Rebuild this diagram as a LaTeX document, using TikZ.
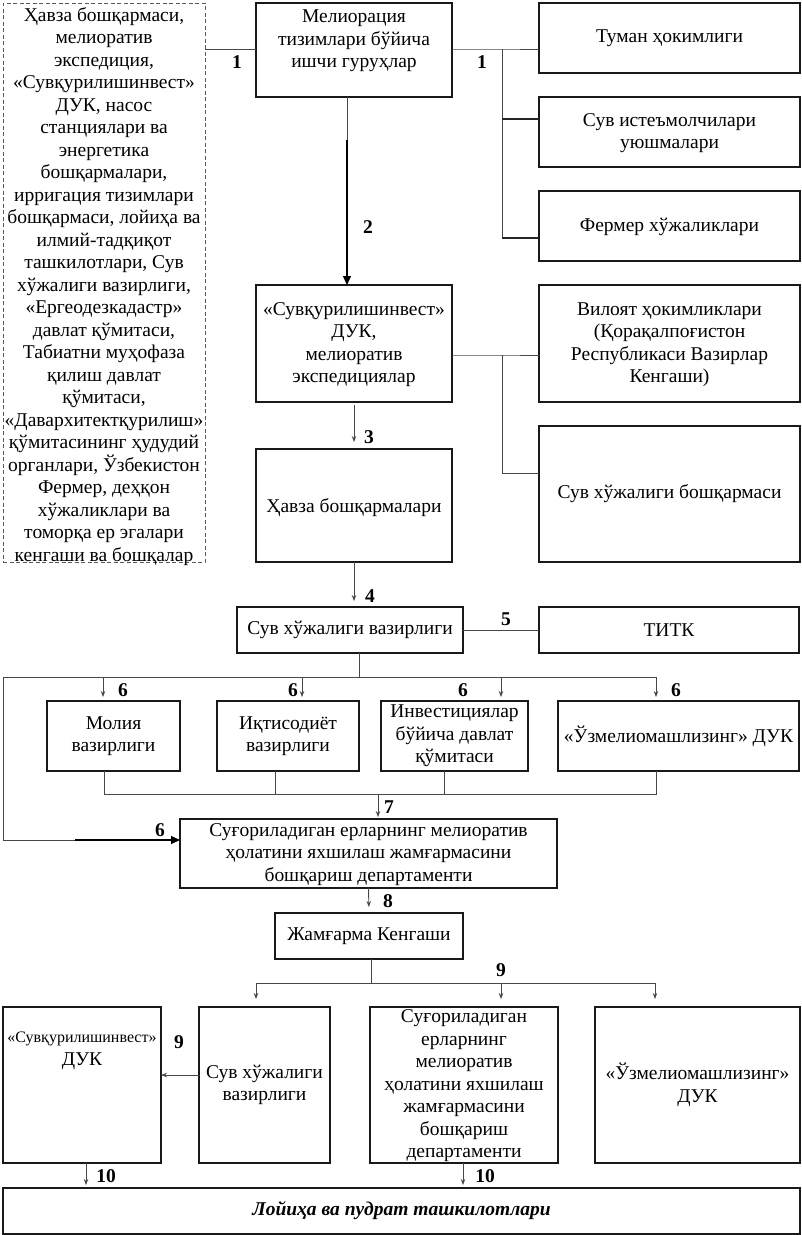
\documentclass[tikz,border=0pt]{standalone}
\usepackage{fontspec}
\setmainfont{Liberation Serif}
\usetikzlibrary{arrows.meta}
\tikzset{
  box/.style={draw=black!90, line width=1.2pt, inner sep=0pt, outer sep=0pt},
  dbox/.style={draw=black!65, line width=0.9pt, dash pattern=on 4pt off 2.5pt, inner sep=0pt, outer sep=0pt},
  txt/.style={align=center, inner sep=0pt, font=\fontsize{19.5}{22.5}\selectfont},
  conn/.style={draw=black!72, line width=0.9pt},
  arr/.style={conn, -{Stealth[length=6pt,width=4.5pt]}},
  bigarr/.style={draw=black, line width=1.3pt, -{Triangle[length=9pt,width=8pt]}},
  num/.style={inner sep=0pt, font=\fontsize{19.5}{20}\selectfont\bfseries},
}
% \bx[style]{name}{x1}{y1}{x2}{y2}{dy}{text}
\newcommand\bx[8][box]{%
  \node[#1, minimum width={#5pt-#3pt}, minimum height={#6pt-#4pt}] (#2) at ({(#3+#5)/2},{(#4+#6)/2}) {};
  \node[txt] (#2-t) at ({(#3+#5)/2},{(#4+#6)/2+#7}) {#8};}
\begin{document}
\begin{tikzpicture}[x=1pt,y=-1pt]
\useasboundingbox (0,0) rectangle (802,1235);

% ---------- boxes ----------
\bx[dbox]{dash}{3}{3}{205}{562}{4}{\fontsize{19.5}{22.2}\selectfont Ҳавза бошқармаси,\\мелиоратив\\экспедиция,\\«Сувқурилишинвест»\\ДУК, насос\\станциялари ва\\энергетика\\бошқармалари,\\ирригация тизимлари\\бошқармаси, лойиҳа ва\\илмий-тадқиқот\\ташкилотлари, Сув\\хўжалиги вазирлиги,\\«Ергеодезкадастр»\\давлат қўмитаси,\\Табиатни муҳофаза\\қилиш давлат\\қўмитаси,\\«Давархитектқурилиш»\\қўмитасининг ҳудудий\\органлари, Ўзбекистон\\Фермер, деҳқон\\хўжаликлари ва\\томорқа ер эгалари\\кенгаши ва бошқалар}
\bx{mel}{256}{3}{452}{97}{-9}{Мелиорация\\тизимлари бўйича\\ишчи гуруҳлар}
\bx{tum}{539}{3}{800}{73}{0}{Туман ҳокимлиги}
\bx{sui}{539}{97}{800}{167}{1}{\fontsize{19.5}{26}\selectfont Сув истеъмолчилари\\уюшмалари}
\bx{fer}{539}{191}{800}{261}{1}{Фермер хўжаликлари}
\bx{suq}{256}{285}{452}{402}{1}{\fontsize{19.5}{22}\selectfont«Сувқурилишинвест»\\ДУК,\\мелиоратив\\экспедициялар}
\bx{vil}{539}{285}{800}{402}{1}{\fontsize{19.5}{23.3}\selectfont Вилоят ҳокимликлари\\(Қорақалпоғистон\\Республикаси Вазирлар\\Кенгаши)}
\bx{sxb}{539}{426}{800}{562}{0}{Сув хўжалиги бошқармаси}
\bx{hav}{256}{449}{452}{562}{2}{Ҳавза бошқармалари}
\bx{sxv}{237}{607}{463}{653}{0}{Сув хўжалиги вазирлиги}
\bx{titk}{539}{607}{799}{653}{0}{ТИТК}
\bx{mol}{47}{701}{180}{771}{0}{Молия\\вазирлиги}
\bx{iqt}{217}{701}{359}{771}{0}{Иқтисодиёт\\вазирлиги}
\bx{inv}{381}{701}{528}{771}{0}{\fontsize{19.5}{22}\selectfont Инвестициялар\\бўйича давлат\\қўмитаси}
\bx{uzm}{558}{701}{799}{771}{0}{«Ўзмелиомашлизинг» ДУК}
\bx{dep}{180}{819}{557}{888}{1}{Суғориладиган ерларнинг мелиоратив\\ҳолатини яхшилаш жамғармасини\\бошқариш департаменти}
\bx{jk}{275}{913}{463}{959}{0}{Жамғарма Кенгаши}
\bx{suq2}{3}{1007}{161}{1163}{-34}{{\fontsize{16}{18}\selectfont«Сувқурилишинвест»}\\ДУК}
\bx{sxv2}{199}{1007}{330}{1163}{0}{Сув хўжалиги\\вазирлиги}
\bx{dep2}{370}{1007}{558}{1163}{1}{\fontsize{19.5}{22.3}\selectfont Суғориладиган\\ерларнинг\\мелиоратив\\ҳолатини яхшилаш\\жамғармасини\\бошқариш\\департаменти}
\bx{uzm2}{595}{1007}{800}{1163}{0}{«Ўзмелиомашлизинг»\\ДУК}
\node[box, minimum width=797pt, minimum height=46pt] (loy) at (401.5,1211) {};
\node[txt, font=\fontsize{19.5}{22}\selectfont\bfseries\itshape] (loy-t) at (401.5,1211) {Лойиҳа ва пудрат ташкилотлари};

% ---------- junction coordinates ----------
\coordinate (j1) at (502,49);
\coordinate (j1a) at (502,119);
\coordinate (j1b) at (502,238);
\coordinate (j2) at (502,355);
\coordinate (j2b) at (502,473);
\coordinate (s6) at (359,677);
\coordinate (l6) at (3,677);
\coordinate (r6) at (656,677);
\coordinate (t1) at (103,677);
\coordinate (t2) at (302,677);
\coordinate (t3) at (501,677);
\coordinate (c7l) at (104,794);
\coordinate (c7r) at (656,794);
\coordinate (c7) at (378,794);
\coordinate (c6a) at (3,840);
\coordinate (c6b) at (75,840);
\coordinate (s9) at (371,983);
\coordinate (b9l) at (256,983);
\coordinate (b9m) at (501,983);
\coordinate (b9r) at (655,983);

% ---------- connectors ----------
\draw[conn] (dash.east |- 0,49) -- (mel.west |- 0,49);
\draw[conn] (mel.east |- j1) -- (j1) -- (j1 -| tum.west);
\draw[conn] (j1) -- (j1b);
\draw[conn, line width=1.2pt, draw=black!85] (j1a) -- (j1a -| sui.west);
\draw[conn, line width=1.2pt, draw=black!85] (j1b) -- (j1b -| fer.west);
\draw[conn] ([xshift=-7pt]mel.south) -- ([xshift=-7pt,yshift=-45pt]mel.south);
\draw[bigarr] ([xshift=-7pt,yshift=-43pt]mel.south) -- ([xshift=-7pt]suq.north);
\draw[conn] (suq.east |- j2) -- (j2) -- (j2 -| vil.west);
\draw[conn] (j2) -- (j2b) -- (j2b -| sxb.west);
\draw[arr, shorten <=3pt, shorten >=7pt] (suq.south) -- (hav.north);
\draw[arr, shorten >=6pt] (hav.south) -- (hav.south |- sxv.north);
\draw[conn] (sxv.east) -- (titk.west);
\draw[conn] (sxv.south -| s6) -- (s6);
\draw[conn] (l6) -- (r6);
\draw[arr, shorten >=4pt] (t1) -- (t1 |- mol.north);
\draw[arr, shorten >=4pt] (t2) -- (t2 |- iqt.north);
\draw[arr, shorten >=4pt] (t3) -- (t3 |- inv.north);
\draw[arr, shorten >=4pt] (r6) -- (r6 |- uzm.north);
\draw[conn] (mol.south -| c7l) -- (c7l) -- (c7r) -- (uzm.south -| c7r);
\draw[conn] (iqt.south -| 275,0) -- (275,794);
\draw[conn] (inv.south -| 444,0) -- (444,794);
\draw[arr, shorten >=2pt] (c7) -- (c7 |- dep.north);
\draw[conn] (l6) -- (c6a) -- (c6b);
\draw[bigarr] (c6b) -- (c6b -| dep.west);
\draw[arr, shorten >=6pt] (dep.south) -- (jk.north);
\draw[conn] (jk.south -| s9) -- (s9);
\draw[conn] (b9l) -- (b9r);
\draw[arr, shorten >=8pt] (b9l) -- (b9l |- sxv2.north);
\draw[arr, shorten >=8pt] (b9m) -- (b9m |- dep2.north);
\draw[arr, shorten >=8pt] (b9r) -- (b9r |- uzm2.north);
\draw[arr] ([yshift=10pt]sxv2.west) -- ([yshift=10pt]sxv2.west -| suq2.east);
\draw[arr, shorten >=3pt] (suq2.south -| 86,0) -- (loy.north -| 86,0);
\draw[arr, shorten >=3pt] (dep2.south -| 463,0) -- (loy.north -| 463,0);

% ---------- numbers ----------
\node[num] (n1a) at (237,62) {1};
\node[num] (n1b) at (482,62) {1};
\node[num] (n2) at (368,227) {2};
\node[num] (n3) at (369,437) {3};
\node[num] (n4) at (370,596) {4};
\node[num] (n5) at (506,619) {5};
\node[num] (n6a) at (123,690) {6};
\node[num] (n6b) at (293,690) {6};
\node[num] (n6c) at (463,690) {6};
\node[num] (n6d) at (676,690) {6};
\node[num] (n7) at (389,807) {7};
\node[num] (n6e) at (160,830) {6};
\node[num] (n8) at (388,901) {8};
\node[num] (n9a) at (501,970) {9};
\node[num] (n9b) at (179,1042) {9};
\node[num] (n10a) at (106,1176) {10};
\node[num] (n10b) at (485,1176) {10};
\end{tikzpicture}
\end{document}
